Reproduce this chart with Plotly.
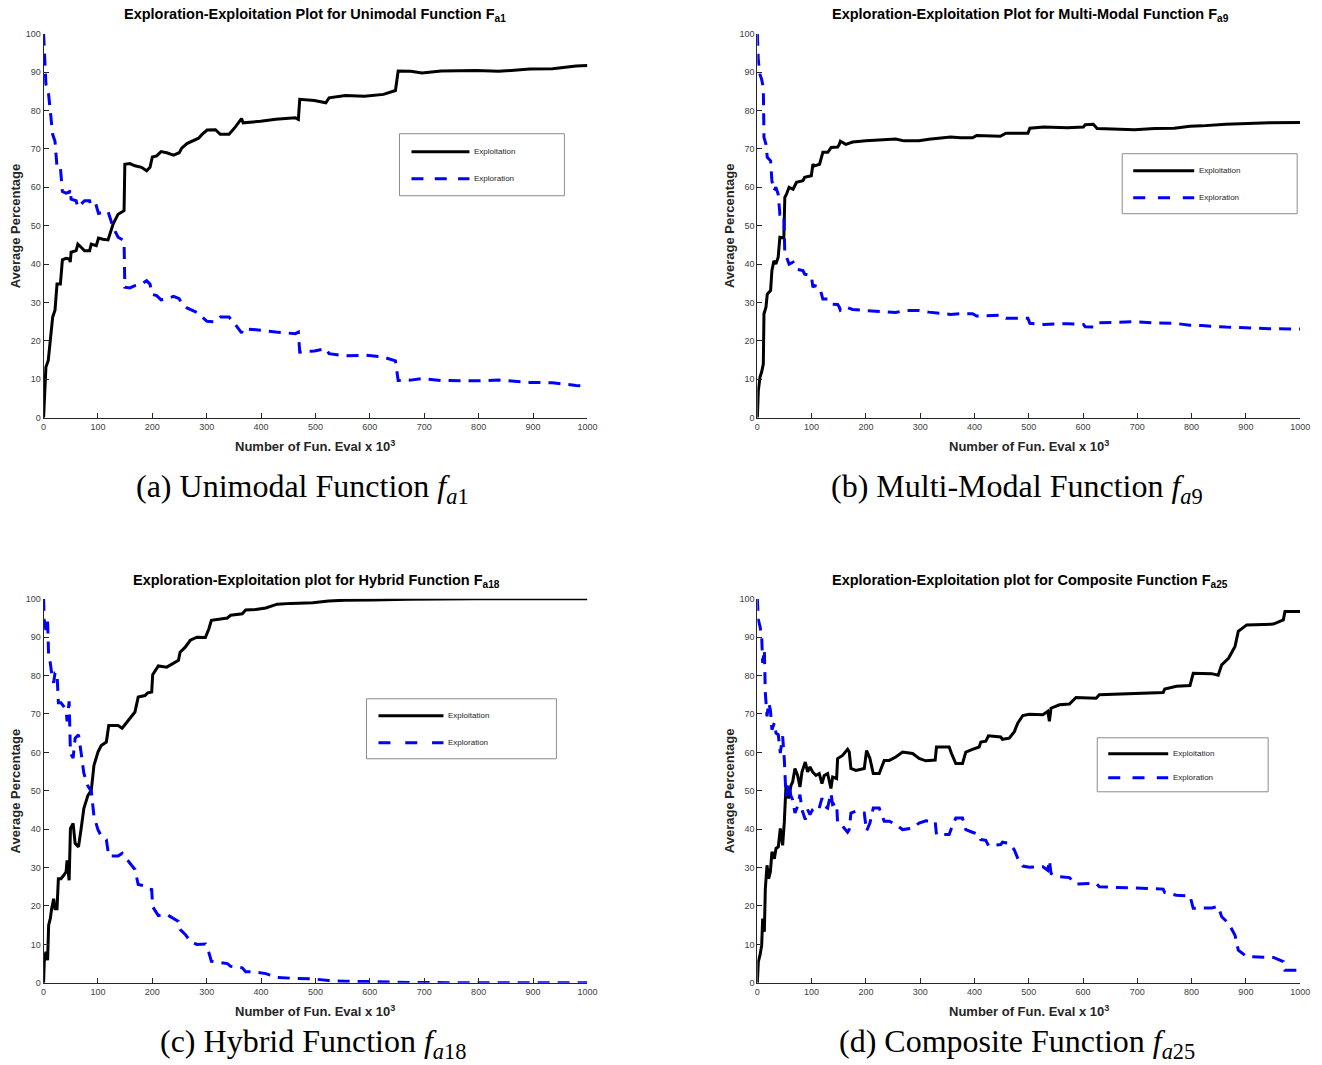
import plotly.graph_objects as go

W, H = 1322, 1065

# ---------------- data (x = number of function evaluations x 10^3) ----------------
a_x = [0, 4.3, 8.6, 12.3, 16.7, 21, 24.7, 30.9, 34.6, 41.4, 47.5, 49, 50.6, 59.9, 63, 69, 75.3, 84.6, 87.7, 96.9,
       101, 109, 118.5, 127.8, 137, 148, 149.4, 158.6, 168, 180, 189.5, 195.7, 200, 208, 216, 226.5, 239, 249.4, 254, 263.6,
       273, 285, 291, 300.6, 316, 325, 341, 352, 364, 367, 399, 427, 463, 468.5, 471, 498, 519, 525, 555, 590,
       625, 647, 652, 675, 696, 731, 795, 837, 894, 936, 979, 1000]
a_exploit = [0, 13.2, 14.9, 20.1, 26.2, 28, 34.8, 34.8, 41.1, 41.5, 41.3, 40.5, 43.1, 43.5, 45.2, 44.4, 43.5, 43.5, 45.2, 44.8,
             46.8, 46.5, 46.3, 50.4, 53, 53.9, 66, 66.2, 65.6, 65.2, 64.3, 65.2, 67.9, 68.2, 69.3, 69, 68.4, 69, 70.2, 71.4,
             72.1, 72.8, 73.7, 74.9, 75, 73.8, 73.8, 75.6, 77.9, 76.8, 77.2, 77.7, 78.1, 77.7, 82.9, 82.6, 82, 83.3, 83.9, 83.7,
             84.2, 85.2, 90.3, 90.2, 89.8, 90.3, 90.4, 90.2, 90.8, 90.9, 91.6, 91.7]
a_explore = [100, 86.8, 85.1, 79.9, 73.8, 72, 65.2, 65.2, 58.9, 58.5, 58.7, 59.5, 56.9, 56.5, 54.8, 55.6, 56.5, 56.5, 54.8, 55.2,
             53.2, 53.5, 53.7, 49.6, 47, 46.1, 34, 33.8, 34.4, 34.8, 35.7, 34.8, 32.1, 31.8, 30.7, 31, 31.6, 31, 29.8, 28.6,
             27.9, 27.2, 26.3, 25.1, 25, 26.2, 26.2, 24.4, 22.1, 23.2, 22.8, 22.3, 21.9, 22.3, 17.1, 17.4, 18, 16.7, 16.1, 16.3,
             15.8, 14.8, 9.7, 9.8, 10.2, 9.7, 9.6, 9.8, 9.2, 9.1, 8.4, 8.3]

b_x = [0, 1.8, 4.9, 7.9, 11, 12.2, 15.9, 18.3, 24.4, 26.8, 30.5, 34.1, 38.4, 41.5, 48.8, 50.6, 53.7, 58.5, 65.9, 72,
       84, 87.2, 99.4, 102.4, 105.5, 114.6, 120.7, 129.9, 136, 148, 151, 153, 163, 175.6, 200, 230.5, 255, 270, 297.6, 316,
       351, 356, 374.6, 396.5, 404, 447.5, 458, 476.7, 498.5, 502, 527.7, 571, 600.6, 604, 619, 626, 666, 695, 732, 768,
       797, 819, 863, 899, 943, 1000]
b_exploit = [0, 7.1, 10.6, 11.9, 14, 27, 28.8, 32.2, 33.1, 38.3, 40.9, 40, 41.8, 47, 46.8, 57.4, 58.2, 60, 59.5, 61.3,
             61.7, 62.6, 63, 66, 65.6, 66, 69.1, 69.1, 70.4, 70.5, 71.2, 72, 71.2, 71.8, 72.1, 72.3, 72.6, 72.1, 72.1, 72.5,
             73, 73.1, 72.9, 72.9, 73.5, 73.3, 74.1, 74.1, 74.1, 75.4, 75.7, 75.5, 75.7, 76.3, 76.4, 75.3, 75.1, 75, 75.3, 75.4,
             75.9, 76, 76.4, 76.6, 76.8, 76.9]
b_explore = [100, 92.9, 89.4, 88.1, 86, 73, 71.2, 67.8, 66.9, 61.7, 59.1, 60, 58.2, 53, 53.2, 42.6, 41.8, 40, 40.5, 38.7,
             38.3, 37.4, 37, 34, 34.4, 34, 30.9, 30.9, 29.6, 29.5, 28.8, 28, 28.8, 28.2, 27.9, 27.7, 27.4, 27.9, 27.9, 27.5,
             27, 26.9, 27.1, 27.1, 26.5, 26.7, 25.9, 25.9, 25.9, 24.6, 24.3, 24.5, 24.3, 23.7, 23.6, 24.7, 24.9, 25, 24.7, 24.6,
             24.1, 24, 23.6, 23.4, 23.2, 23.1]

c_x = [0, 1.2, 4.3, 7.4, 9.3, 12.3, 14.8, 18.5, 21, 24.7, 27.2, 32, 37, 41.4, 43.2, 47, 49.4, 54.3, 58, 64.2,
       69.1, 74, 81.5, 87.7, 92.6, 100, 106, 115.4, 119.8, 127.8, 137, 144.4, 155.6, 168, 174, 186.4, 191.4, 198.8, 200.6, 211,
       226.5, 239, 248, 251, 260.5, 269.8, 282, 297.5, 304, 308.6, 322, 338, 344, 365.4, 371.6, 390, 408.6, 429.7, 455, 495,
       524, 553.5, 604.5, 670, 794, 1000]
c_exploit = [0, 5.5, 8.1, 5.9, 15, 16.7, 19.3, 21.9, 19.3, 19.3, 27.1, 27.1, 28, 28.9, 31.9, 26.7, 40.2, 41.5, 36.3, 35.4,
             40.2, 45.4, 48.8, 50.1, 56.6, 60.1, 61.8, 62.7, 67, 67, 67, 66.3, 68.3, 70.5, 74.4, 74.8, 75.5, 75.7, 80.2, 82.5,
             82.2, 83.3, 84, 86.1, 87.4, 89.2, 90, 89.9, 92.2, 94.4, 94.6, 95, 95.7, 96.1, 97.1, 97.2, 97.6, 98.6, 98.8, 98.97,
             99.4, 99.6, 99.7, 99.9, 100, 100]
c_explore = [100, 94.5, 91.9, 94.1, 85, 83.3, 80.7, 78.1, 80.7, 80.7, 72.9, 72.9, 72, 71.1, 68.1, 73.3, 59.8, 58.5, 63.7, 64.6,
             59.8, 54.6, 51.2, 49.9, 43.4, 39.9, 38.2, 37.3, 33, 33, 33, 33.7, 31.7, 29.5, 25.6, 25.2, 24.5, 24.3, 19.8, 17.5,
             17.8, 16.7, 16, 13.9, 12.6, 10.8, 10, 10.1, 7.8, 5.6, 5.4, 5, 4.3, 3.9, 2.9, 2.8, 2.4, 1.4, 1.2, 1.03,
             0.6, 0.4, 0.3, 0.1, 0, 0]

d_x = [0, 1.8, 4.9, 8, 9.8, 12.9, 14.7, 17.8, 20.9, 24, 26.9, 31.3, 34.4, 38.6, 42.3, 46.6, 49.7, 52.8, 57.7, 62,
       65, 69.3, 74.2, 78.5, 82.2, 88.3, 92.6, 97, 101.8, 108, 114, 119, 123.3, 129.4, 135.6, 138.7, 146, 147.9, 157, 166.3,
       169.3, 172.4, 181.6, 197, 201.2, 207.4, 213.5, 224.5, 233.7, 243, 255, 267.5, 286, 298, 310.4, 327.6, 330, 353.4, 357.7, 365.6,
       378, 384, 396.3, 408.6, 411.7, 420.9, 425.8, 439.3, 448.5, 451.5, 464, 473.5, 479.7, 489, 501, 526, 535, 538, 541, 556.6,
       575, 587, 606, 624, 630, 673.5, 698, 723, 747.7, 750.5, 772, 797, 803, 837, 849, 855.4, 868, 880, 886, 901.5,
       950.8, 969, 972, 1000]
d_exploit = [0, 5.5, 7.2, 9.8, 16.7, 13.3, 24.5, 30.6, 27.1, 28.9, 34.1, 32.3, 35, 35.4, 40.2, 35.8, 41.9, 51.4, 48, 51.4,
             52.3, 55.8, 54, 51, 54.9, 57.5, 54.9, 56.2, 54.9, 54, 54.5, 51.9, 54, 54.5, 50.6, 53.6, 53.2, 58.4, 59.2, 60.8,
             60.1, 55.8, 55.3, 55.8, 60.5, 58.4, 54.5, 54.5, 57.9, 57.9, 58.8, 60.1, 59.7, 58.4, 57.8, 58, 61.4, 61.4, 59.7, 57.1,
             57.1, 60.1, 60.8, 61.4, 62.7, 62.9, 64.3, 64.2, 64, 63.4, 63.7, 65.4, 67.6, 69.6, 69.9, 69.8, 70.7, 68.1, 71.5, 72.4,
             72.6, 74.3, 74.1, 74.1, 75, 75.2, 75.4, 75.6, 75.6, 76.5, 77.2, 77.4, 80.6, 80.5, 80.1, 82.8, 84.5, 87.6, 91.5, 93.2,
             93.4, 94.5, 96.7, 96.7]
d_explore = [100, 94.5, 92.8, 90.2, 83.3, 86.7, 75.5, 69.4, 72.9, 71.1, 65.9, 67.7, 65, 64.6, 59.8, 64.2, 58.1, 48.6, 52, 48.6,
             47.7, 44.2, 46, 49, 45.1, 42.5, 45.1, 43.8, 45.1, 46, 45.5, 48.1, 46, 45.5, 49.4, 46.4, 46.8, 41.6, 40.8, 39.2,
             39.9, 44.2, 44.7, 44.2, 39.5, 41.6, 45.5, 45.5, 42.1, 42.1, 41.2, 39.9, 40.3, 41.6, 42.2, 42, 38.6, 38.6, 40.3, 42.9,
             42.9, 39.9, 39.2, 38.6, 37.3, 37.1, 35.7, 35.8, 36, 36.6, 36.3, 34.6, 32.4, 30.4, 30.1, 30.2, 29.3, 31.9, 28.5, 27.6,
             27.4, 25.7, 25.9, 25.9, 25, 24.8, 24.6, 24.4, 24.4, 23.5, 22.8, 22.6, 19.4, 19.5, 19.9, 17.2, 15.5, 12.4, 8.5, 6.8,
             6.6, 5.5, 3.3, 3.3]

series_names = ["Exploitation", "Exploration"]
x_ticks = [0, 100, 200, 300, 400, 500, 600, 700, 800, 900, 1000]
y_ticks = [0, 10, 20, 30, 40, 50, 60, 70, 80, 90, 100]

titles = [
    ("Exploration-Exploitation Plot for Unimodal Function F", "a1"),
    ("Exploration-Exploitation Plot for Multi-Modal Function F", "a9"),
    ("Exploration-Exploitation plot for Hybrid Function F", "a18"),
    ("Exploration-Exploitation plot for Composite Function F", "a25"),
]
captions = [
    ("(a) Unimodal Function ", "a", "1"),
    ("(b) Multi-Modal Function ", "a", "9"),
    ("(c) Hybrid Function ", "a", "18"),
    ("(d) Composite Function ", "a", "25"),
]
x_title = "Number of Fun. Eval x 10<sup>3</sup>"
y_title = "Average Percentage"

data = [(a_x, a_exploit, a_explore), (b_x, b_exploit, b_explore),
        (c_x, c_exploit, c_explore), (d_x, d_exploit, d_explore)]

# ---------------- layout geometry (target pixels) ----------------
areas = [(43, 587, 34, 418), (757, 1300, 34, 418), (43, 587, 599, 983), (757, 1300, 599, 983)]
title_pos = [(315, 15), (1030, 15), (316, 581), (1030, 581)]
xtitle_pos = [(315, 446), (1029, 446), (315, 1011), (1029, 1011)]
ytitle_pos = [(15, 226), (729, 226), (15, 791), (729, 791)]
caption_pos = [(302, 489), (1017, 489), (313, 1044), (1017, 1044)]
legend_box = [(399, 564, 134, 196, 411, 469, 152, 179),
              (1122, 1297, 154, 214, 1133, 1194, 171, 198),
              (366, 556, 699, 759, 378, 443, 716, 743),
              (1097, 1268, 738, 792, 1108, 1168, 754, 778)]

# small correction for the slight shrink observed in the rendered screenshot
SC = 0.9905
OFFX, OFFY = 2.4, 5.3


def px(x):
    return ((x - OFFX) / SC) / W


def py(y):
    return 1 - ((y - OFFY) / SC) / H


FONT = "Liberation Sans, Arial, Helvetica, sans-serif"
SERIF = "Liberation Serif, Times New Roman, serif"
AX_COLOR = "#262626"

fig = go.Figure()
shapes = []
annotations = []

for i, (xs, ex, er) in enumerate(data):
    n = "" if i == 0 else str(i + 1)
    fig.add_trace(go.Scatter(x=xs, y=ex, mode="lines", name=series_names[0],
                             line=dict(color="black", width=3), xaxis="x" + n, yaxis="y" + n,
                             showlegend=False))
    fig.add_trace(go.Scatter(x=xs, y=er, mode="lines", name=series_names[1],
                             line=dict(color="#0000ff", width=3, dash="12px,8px"), xaxis="x" + n, yaxis="y" + n,
                             showlegend=False))
    l, r, t, b = areas[i]
    axcommon = dict(showgrid=False, zeroline=False, showline=True, linecolor=AX_COLOR, linewidth=1,
                    ticks="inside", ticklen=5, tickwidth=1, tickcolor=AX_COLOR,
                    tickfont=dict(family=FONT, size=9, color="#404040"), mirror=False, fixedrange=True)
    fig.update_layout(**{
        "xaxis" + n: dict(domain=[px(l), px(r)], range=[0, 1000], tickvals=x_ticks,
                          anchor="y" + n, **axcommon),
        "yaxis" + n: dict(domain=[py(b), py(t)], range=[0, 100], tickvals=y_ticks,
                          anchor="x" + n, **axcommon),
    })
    tt, ts = titles[i]
    annotations.append(dict(text="<b>" + tt + "<sub>" + ts + "</sub></b>", x=px(title_pos[i][0]), y=py(title_pos[i][1]),
                            xref="paper", yref="paper", xanchor="center", yanchor="middle", showarrow=False,
                            font=dict(family=FONT, size=14.5, color="black")))
    annotations.append(dict(text="<b>" + x_title + "</b>", x=px(xtitle_pos[i][0]), y=py(xtitle_pos[i][1]),
                            xref="paper", yref="paper", xanchor="center", yanchor="middle", showarrow=False,
                            font=dict(family=FONT, size=13, color="#262626")))
    annotations.append(dict(text="<b>" + y_title + "</b>", x=px(ytitle_pos[i][0]), y=py(ytitle_pos[i][1]),
                            xref="paper", yref="paper", xanchor="center", yanchor="middle", showarrow=False,
                            textangle=-90, font=dict(family=FONT, size=13, color="#262626")))
    cl, ca, cn = captions[i]
    annotations.append(dict(text=cl + "<i>f</i><sub><i>" + ca + "</i>" + cn + "</sub>",
                            x=px(caption_pos[i][0]), y=py(caption_pos[i][1]),
                            xref="paper", yref="paper", xanchor="center", yanchor="middle", showarrow=False,
                            font=dict(family=SERIF, size=32, color="black")))
    L, R, T, B, lx0, lx1, ye, yr = legend_box[i]
    seg = (lx1 - lx0) / SC
    dash_len = 12
    gap_len = max((seg - 3 * dash_len) / 2, 4)
    shapes.append(dict(type="rect", xref="paper", yref="paper", x0=px(L), x1=px(R), y0=py(B), y1=py(T),
                       line=dict(color="#8c8c8c", width=1), fillcolor="white", layer="above"))
    shapes.append(dict(type="line", xref="paper", yref="paper", x0=px(lx0), x1=px(lx1), y0=py(ye), y1=py(ye),
                       line=dict(color="black", width=3), layer="above"))
    shapes.append(dict(type="line", xref="paper", yref="paper", x0=px(lx0), x1=px(lx1), y0=py(yr), y1=py(yr),
                       line=dict(color="#0000ff", width=3, dash="%dpx,%.1fpx" % (dash_len, gap_len)), layer="above"))
    for name, yy in ((series_names[0], ye), (series_names[1], yr)):
        annotations.append(dict(text=name, x=px(lx1 + 3), y=py(yy), xref="paper", yref="paper",
                                xanchor="left", yanchor="middle", showarrow=False,
                                font=dict(family=FONT, size=8, color="#262626")))

fig.update_layout(width=W, height=H, autosize=False, margin=dict(l=0, r=0, t=0, b=0),
                  paper_bgcolor="white", plot_bgcolor="white", showlegend=False,
                  shapes=shapes, annotations=annotations)

fig.write_html("out.html", config={"displayModeBar": False},
               post_script="document.body.style.margin='0px';document.body.style.overflow='hidden';")
